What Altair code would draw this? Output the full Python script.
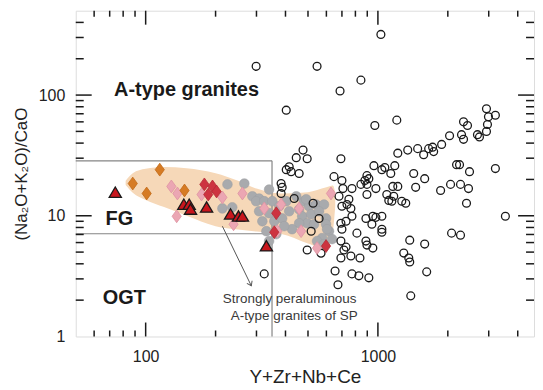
import altair as alt
import pandas as pd

# ---------------- data ----------------
# open circles: A-type granite compilation
open_x = [1030, 547, 299, 845, 687, 403, 2934, 3205, 2992, 1206, 970, 2337, 2431, 2963,
          2035, 2291, 2337, 2683, 2737, 2934, 1881, 1720, 1654, 1483, 1574, 1738, 1344, 1218,
          476, 445, 496, 693, 415, 403, 423, 458, 383, 387, 383, 436, 526, 558, 516, 496, 569,
          324, 654, 673, 647, 700, 707, 773, 680, 750, 736, 700, 765, 773, 729, 693, 700, 812,
          693, 729, 714, 693, 765, 837, 773, 828, 914, 961, 1040, 1071, 1182, 1136, 1426, 1590,
          897, 914, 879, 845, 897, 980, 1159, 1218, 1454, 1862, 2055, 2268, 2455, 2181, 2246,
          2480, 3205, 897, 1092, 1170, 1114, 1148, 1267, 1318, 2407, 888, 951, 980, 1040, 942,
          1040, 1040, 3539, 888, 897, 951, 1371, 1590, 2076, 2268, 1292, 1358, 1371, 1622, 1385]
open_y = [318, 173, 173, 133, 108, 75, 77, 68, 66, 62, 56, 60, 56, 57,
          46, 47, 43, 47, 45, 50, 39, 37, 36, 36, 32, 34, 35, 33,
          35, 30.3, 29.7, 29.7, 25.5, 24.1, 23.2, 22.4, 18.5, 17.2, 15.3, 13.9, 12.7, 9.5, 7.45, 5.2, 4.9,
          3.3, 3.49, 2.68, 21.1, 19.6, 16.8, 16.8, 14.5, 13.7, 12.4, 12.0, 11.5, 9.9, 9.0, 8.67, 7.74, 7.18,
          6.17, 5.5, 5.2, 4.47, 4.64, 4.47, 3.3, 3.18, 3.06, 26.0, 24.1, 25.1, 26.0, 22.4, 22.4, 20.3,
          21.5, 20.3, 19.6, 18.2, 18.2, 16.8, 17.5, 17.5, 17.2, 16.2, 18.2, 18.2, 16.8, 26.5, 26.5,
          23.2, 24.6, 15.0, 15.0, 14.5, 13.4, 13.2, 13.2, 12.7, 12.7, 9.5, 9.9, 9.7, 9.9, 8.5,
          7.74, 7.31, 9.9, 6.17, 5.72, 5.4, 6.28, 5.83, 7.18, 6.91, 4.91, 4.47, 4.14, 3.43, 2.17]

# grey filled circles
gray_x = [225, 266, 288, 308, 214, 236, 340, 299, 324, 351, 403, 340, 318, 358, 387, 415, 458,
          481, 505, 542, 586, 472, 516, 496, 558, 598, 598, 616, 575, 547, 586, 331, 365, 340,
          458, 427, 635, 604, 531, 376, 445, 491, 395, 308]
gray_y = [18.2, 18.5, 14.5, 13.9, 11.5, 11.75, 16.5, 13.2, 13.2, 13.2, 13.2, 10.5, 9.0, 9.0, 9.5,
          10.9, 11.3, 13.2, 12.0, 12.4, 12.4, 9.9, 10.3, 8.67, 10.9, 9.5, 8.5, 7.45, 6.53, 6.17,
          5.83, 7.45, 7.04, 6.17, 8.67, 7.74, 6.41, 7.74, 8.5, 12.0, 14.5, 13.7, 8.2, 10.9]

# light pink diamonds
pink_x = [129, 137, 174, 136, 214, 239, 261, 324, 383, 458, 467, 369, 628, 547]
pink_y = [17.5, 15.3, 15.0, 9.9, 14.2, 8.5, 15.3, 11.5, 12.4, 11.5, 7.45, 7.45, 15.3, 5.4]

# red diamonds
red_x = [179, 194, 202, 186, 365, 358, 598]
red_y = [18.2, 17.5, 15.9, 15.0, 10.5, 7.31, 5.61]

# orange diamonds
orange_x = [115, 88, 101, 147]
orange_y = [24.1, 18.5, 15.3, 16.2]

# red triangles
tri_x = [74, 146, 154, 156, 183, 232, 251, 261, 331]
tri_y = [15.6, 12.4, 12.4, 11.3, 11.75, 10.3, 9.9, 9.9, 5.61]

# shaded field (upper / lower envelope)
shade_x = [82, 88, 100, 120, 150, 200, 250, 300, 380, 500, 600, 640, 655]
shade_upper = [19.5, 22.5, 24.5, 25.3, 24.8, 22.5, 19.5, 16.8, 15.3, 15.7, 17.2, 17.8, 15.5]
shade_lower = [18.0, 15.5, 13.5, 11.8, 10.0, 8.2, 7.7, 7.4, 7.1, 5.9, 5.3, 7.5, 12.0]

# field boundary lines (FG box)
seg_x1 = [50, 50, 350]
seg_x2 = [350, 350, 350]
seg_y1 = [28.5, 7.1, 1]
seg_y2 = [28.5, 7.1, 28.5]

# arrow
arrow_x1, arrow_y1, arrow_x2, arrow_y2 = 214, 8.19, 285, 2.63

# tick values
x_minor = [60, 70, 80, 90, 200, 300, 400, 500, 600, 700, 800, 900, 2000, 3000, 4000]
x_major = [100, 1000]
y_minor = [2, 3, 4, 5, 6, 7, 8, 9, 20, 30, 40, 50, 60, 70, 80, 90, 200, 300, 400]
y_major = [10, 100]

# labels
field_labels = ["A-type granites", "FG", "OGT"]
field_lx = [150, 77, 81]
field_ly = [110, 9.4, 2.1]
note_labels = ["Strongly peraluminous", "A-type granites of SP"]
note_lx = [417, 436]
note_ly = [2.05, 1.49]

# ---------------- chart ----------------
W, H = 460, 327
FONT = "Liberation Sans"
TXT = "#222222"

xscale = alt.Scale(type="log", domain=[50, 4700], nice=False)
yscale = alt.Scale(type="log", domain=[1, 500], nice=False)
xaxis = alt.Axis(values=[100, 1000], format="d", ticks=False, domain=False, grid=False,
                 labelFontSize=16, labelPadding=12, labelColor=TXT, labelFont=FONT,
                 title="Y+Zr+Nb+Ce", titleFontSize=19, titleFontWeight="normal",
                 titleFont=FONT, titleColor=TXT, titlePadding=3)
yaxis = alt.Axis(values=[1, 10, 100], format="d", ticks=False, domain=False, grid=False,
                 labelFontSize=16, labelPadding=11, labelColor=TXT, labelFont=FONT,
                 title="(Na₂O+K₂O)/CaO", titleFontSize=17, titleFontWeight="normal",
                 titleFont=FONT, titleColor=TXT, titlePadding=8)


def X(f):
    return alt.X(f, type="quantitative", scale=xscale, axis=xaxis)


def Y(f):
    return alt.Y(f, type="quantitative", scale=yscale, axis=yaxis)


shade_df = pd.DataFrame({"x": shade_x, "yu": shade_upper, "yl": shade_lower})
shade = alt.Chart(shade_df).mark_area(color="#f6d8b8", opacity=1, interpolate="monotone").encode(
    x=X("x"), y=Y("yu"), y2=alt.Y2("yl"))

seg_df = pd.DataFrame({"x": seg_x1, "x2": seg_x2, "y": seg_y1, "y2": seg_y2})
segs = alt.Chart(seg_df).mark_rule(color="#858585", strokeWidth=1.2).encode(
    x=X("x"), x2=alt.X2("x2"), y=Y("y"), y2=alt.Y2("y2"))

arrow_df = pd.DataFrame({"x": [arrow_x1], "x2": [arrow_x2], "y": [arrow_y1], "y2": [arrow_y2]})
arrow_line = alt.Chart(arrow_df).mark_rule(color="#555555", strokeWidth=1).encode(
    x=X("x"), x2=alt.X2("x2"), y=Y("y"), y2=alt.Y2("y2"))
arrow_head = alt.Chart(arrow_df).mark_point(
    shape="M-0.7,-1L0,0L0.7,-1", filled=False, size=70, stroke="#555555", strokeWidth=1,
    angle=334, opacity=1).encode(x=X("x2"), y=Y("y2"))

gray = alt.Chart(pd.DataFrame({"x": gray_x, "y": gray_y})).mark_circle(
    size=95, color="#a8aaad", stroke="#9c9ea1", strokeWidth=0.5, opacity=1).encode(x=X("x"), y=Y("y"))

opens = alt.Chart(pd.DataFrame({"x": open_x, "y": open_y})).mark_point(
    shape="circle", filled=False, size=62, stroke="#1a1a1a", strokeWidth=1.3, opacity=1).encode(
    x=X("x"), y=Y("y"))

DIAMOND = "M0,-1L0.72,0L0,1L-0.72,0Z"
pink = alt.Chart(pd.DataFrame({"x": pink_x, "y": pink_y})).mark_point(
    shape=DIAMOND, filled=True, size=165, fill="#eba6b3", stroke="#de93a2", strokeWidth=0.8,
    opacity=1).encode(x=X("x"), y=Y("y"))
red = alt.Chart(pd.DataFrame({"x": red_x, "y": red_y})).mark_point(
    shape=DIAMOND, filled=True, size=165, fill="#cd3340", stroke="#b42a36", strokeWidth=0.8,
    opacity=1).encode(x=X("x"), y=Y("y"))
orange = alt.Chart(pd.DataFrame({"x": orange_x, "y": orange_y})).mark_point(
    shape=DIAMOND, filled=True, size=165, fill="#d67b24", stroke="#c06a18", strokeWidth=0.8,
    opacity=1).encode(x=X("x"), y=Y("y"))
tris = alt.Chart(pd.DataFrame({"x": tri_x, "y": tri_y})).mark_point(
    shape="M0,-0.9L1,0.8L-1,0.8Z", filled=True, size=150, fill="#c8161d", stroke="#1a1a1a",
    strokeWidth=1.3, opacity=1).encode(x=X("x"), y=Y("y"))

field_txt = alt.Chart(pd.DataFrame({"x": field_lx, "y": field_ly, "t": field_labels})).mark_text(
    font=FONT, fontSize=20, fontWeight="bold", color="#1a1a1a", align="center", baseline="middle").encode(
    x=X("x"), y=Y("y"), text="t:N")
note_txt = alt.Chart(pd.DataFrame({"x": note_lx, "y": note_ly, "t": note_labels})).mark_text(
    font=FONT, fontSize=13.5, color="#3a3a3a", align="center", baseline="middle").encode(
    x=X("x"), y=Y("y"), text="t:N")

# inside ticks on all four sides
TK = "#1a1a1a"
xmin_df = pd.DataFrame({"v": x_minor})
xmaj_df = pd.DataFrame({"v": x_major})
ymin_df = pd.DataFrame({"v": y_minor})
ymaj_df = pd.DataFrame({"v": y_major})
ticks = [
    alt.Chart(xmin_df).mark_rule(color=TK, strokeWidth=1.5).encode(x=X("v"), y=alt.value(H), y2=alt.value(H - 6)),
    alt.Chart(xmaj_df).mark_rule(color=TK, strokeWidth=1.5).encode(x=X("v"), y=alt.value(H), y2=alt.value(H - 14)),
    alt.Chart(xmin_df).mark_rule(color=TK, strokeWidth=1.5).encode(x=X("v"), y=alt.value(0), y2=alt.value(6)),
    alt.Chart(xmaj_df).mark_rule(color=TK, strokeWidth=1.5).encode(x=X("v"), y=alt.value(0), y2=alt.value(14)),
    alt.Chart(ymin_df).mark_rule(color=TK, strokeWidth=1.5).encode(y=Y("v"), x=alt.value(0), x2=alt.value(8)),
    alt.Chart(ymaj_df).mark_rule(color=TK, strokeWidth=1.5).encode(y=Y("v"), x=alt.value(0), x2=alt.value(16)),
    alt.Chart(ymin_df).mark_rule(color=TK, strokeWidth=1.5).encode(y=Y("v"), x=alt.value(W), x2=alt.value(W - 8)),
    alt.Chart(ymaj_df).mark_rule(color=TK, strokeWidth=1.5).encode(y=Y("v"), x=alt.value(W), x2=alt.value(W - 16)),
]

chart = alt.layer(
    shade, segs, arrow_line, arrow_head, gray, opens, pink, red, orange, tris,
    field_txt, note_txt, *ticks
).properties(
    width=W, height=H,
    padding={"left": 4, "top": 1, "right": 0, "bottom": 0},
    background="white",
).configure_view(
    stroke="#1a1a1a", strokeWidth=1.6
).configure(font=FONT)

chart.save("out.html", embed_options={"renderer": "svg", "actions": False})
